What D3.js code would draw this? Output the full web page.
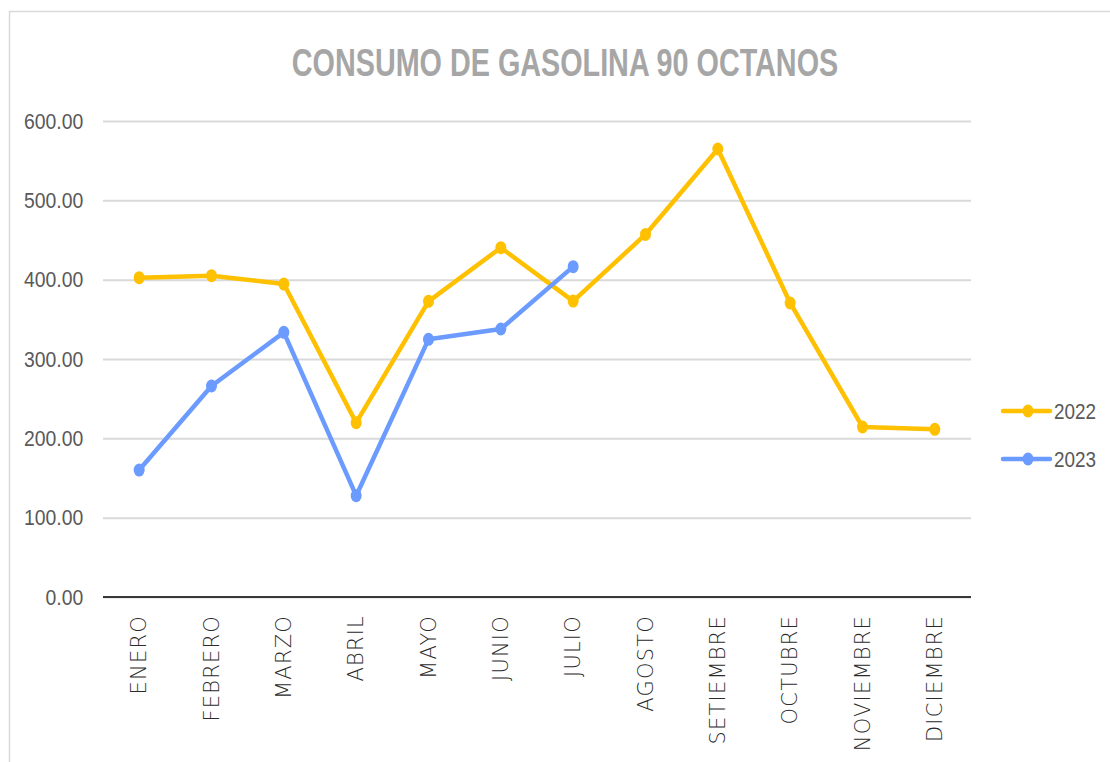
<!DOCTYPE html>
<html>
<head>
<meta charset="utf-8">
<script src="https://cdn.jsdelivr.net/npm/d3@7"></script>
<style>
  html, body { margin: 0; padding: 0; background: #fff; }
  svg { display: block; }
</style>
</head>
<body>
<svg id="chart" width="1110" height="762"></svg>
<script>
const title = "CONSUMO DE GASOLINA 90 OCTANOS";
const months = ["ENERO","FEBRERO","MARZO","ABRIL","MAYO","JUNIO","JULIO","AGOSTO","SETIEMBRE","OCTUBRE","NOVIEMBRE","DICIEMBRE"];
const series2022 = [402.5, 405, 394.5, 219.7, 372.7, 440.3, 373, 457, 564.7, 370.6, 214.3, 211.4];
const series2023 = [160, 266, 333.6, 127.7, 324.8, 337.8, 416.4];
const seriesNames = ["2022", "2023"];
const seriesColors = ["#FFC000", "#6B9BFF"];
const yTicks = [0, 100, 200, 300, 400, 500, 600];

const svg = d3.select("#chart");
const W = 1110, H = 762;
const plot = { left: 103, right: 971, top: 121, bottom: 597 };
const narrow = "'Liberation Sans Narrow', 'Arial Narrow', 'Liberation Sans', sans-serif";

// outer frame
svg.append("rect")
  .attr("x", 9.5).attr("y", 11.5)
  .attr("width", W + 20).attr("height", H + 20)
  .attr("fill", "none").attr("stroke", "#d9d9d9").attr("stroke-width", 1.5);

const x = d3.scaleBand().domain(months).range([plot.left, plot.right]).padding(0);
const y = d3.scaleLinear().domain([0, 600]).range([plot.bottom, plot.top]);
const cx = m => x(m) + x.bandwidth() / 2;

// title
svg.append("text")
  .attr("transform", "translate(565,76) scale(0.757,1)")
  .attr("text-anchor", "middle")
  .attr("font-family", narrow)
  .attr("font-weight", "bold")
  .attr("font-size", 38)
  .attr("fill", "#a6a6a6")
  .text(title);

// gridlines + y axis labels
const yAxis = d3.axisLeft(y).tickValues(yTicks).tickFormat(d3.format(".2f"))
  .tickSize(-(plot.right - plot.left)).tickPadding(20);
const gy = svg.append("g").attr("transform", `translate(${plot.left},0)`).call(yAxis);
gy.select(".domain").remove();
gy.selectAll(".tick line").attr("stroke", "#d9d9d9").attr("stroke-width", 2);
gy.selectAll(".tick text")
  .attr("font-family", narrow)
  .attr("font-size", 22).attr("fill", "#595959")
  .attr("x", -22.5)
  .attr("transform", "scale(0.88,1)");

// baseline
svg.append("line")
  .attr("x1", plot.left).attr("x2", plot.right)
  .attr("y1", y(0)).attr("y2", y(0))
  .attr("stroke", "#000").attr("stroke-width", 1.5);

// x axis labels
const xAxis = d3.axisBottom(x).tickSize(0).tickPadding(0);
const gx = svg.append("g").attr("transform", `translate(0,${plot.bottom})`).call(xAxis);
gx.select(".domain").remove();
gx.selectAll(".tick text")
  .attr("font-family", "'DejaVu Sans', sans-serif")
  .attr("font-weight", 200)
  .attr("font-size", 21)
  .attr("letter-spacing", 1.2)
  .attr("fill", "#2b2b2b")
  .attr("text-anchor", "end")
  .attr("dy", null)
  .attr("y", 0)
  .attr("transform", "translate(7,18) rotate(-90)");

// lines
const data = [
  months.map((m, i) => ({ m, v: series2022[i] })),
  months.slice(0, series2023.length).map((m, i) => ({ m, v: series2023[i] }))
];
const line = d3.line().x(d => cx(d.m)).y(d => y(d.v));

data.forEach((s, i) => {
  svg.append("path").datum(s)
    .attr("d", line)
    .attr("fill", "none")
    .attr("stroke", seriesColors[i])
    .attr("stroke-width", 4.5)
    .attr("stroke-linejoin", "round");
  svg.selectAll(null).data(s).enter().append("ellipse")
    .attr("cx", d => cx(d.m)).attr("cy", d => y(d.v))
    .attr("rx", 5.5).attr("ry", 6.5)
    .attr("fill", seriesColors[i]);
});

// legend
const legend = svg.append("g");
seriesNames.forEach((name, i) => {
  const ly = 411 + i * 48;
  legend.append("line")
    .attr("x1", 1003).attr("x2", 1050).attr("y1", ly).attr("y2", ly)
    .attr("stroke", seriesColors[i]).attr("stroke-width", 4.5).attr("stroke-linecap", "round");
  legend.append("ellipse")
    .attr("cx", 1028).attr("cy", ly).attr("rx", 5.5).attr("ry", 6.5)
    .attr("fill", seriesColors[i]);
  legend.append("text")
    .attr("transform", `translate(1054,${ly + 8}) scale(0.86,1)`)
    .attr("font-family", narrow)
    .attr("font-size", 22).attr("fill", "#595959")
    .text(name);
});
</script>
</body>
</html>
